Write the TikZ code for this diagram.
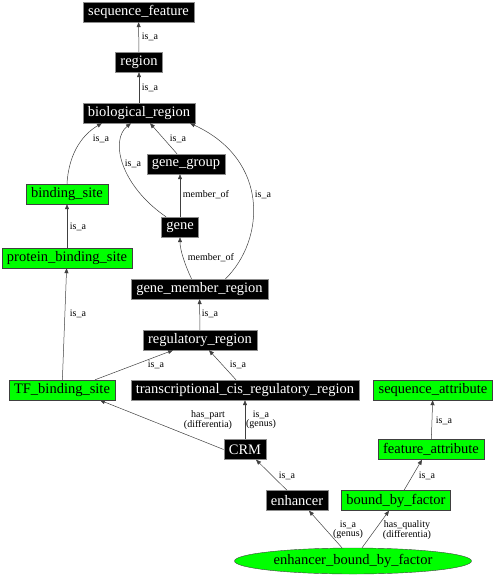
\documentclass[tikz,border=0pt]{standalone}
\usepackage{fontspec}
\setmainfont{Liberation Serif}
\usetikzlibrary{arrows.meta,calc,positioning,shapes.geometric}

\begin{document}
\begin{tikzpicture}[x=1pt,y=-1pt]
\tikzstyle{bk}=[fill=black,draw=black!45,text=white,font={\rmfamily\fontsize{14.5}{16}\selectfont},minimum height=20pt,inner xsep=5pt,inner ysep=1pt]
\tikzstyle{gr}=[bk,fill=green,draw=black!75,text=black]
\tikzstyle{bklabel}=[font={\rmfamily\fontsize{10}{8.5}\selectfont},inner sep=1pt,align=center]
\tikzstyle{rel}=[draw=black!75,line width=0.5pt,-{Triangle[length=5pt,width=4pt]}]

\useasboundingbox (0,0) rectangle (498,576);

% term nodes
\draw node[bk] (sf) at (138.5,12) {sequence\_feature}
      node[bk] (region) at (139,62) {region}
      node[bk] (bio) at (139,113) {biological\_region}
      node[bk] (gg) at (186,164) {gene\_group}
      node[gr] (bs) at (67,194) {binding\_site}
      node[bk] (gene) at (180,227) {gene}
      node[gr] (pbs) at (67,258) {protein\_binding\_site}
      node[bk] (gmr) at (199.5,289) {gene\_member\_region}
      node[bk] (reg) at (200,340) {regulatory\_region}
      node[gr] (tfbs) at (62,390) {TF\_binding\_site}
      node[bk] (tcrr) at (245,390) {transcriptional\_cis\_regulatory\_region}
      node[gr] (sa) at (433,390) {sequence\_attribute}
      node[bk] (crm) at (245,449.5) {CRM}
      node[gr] (fa) at (431,449.5) {feature\_attribute}
      node[bk] (enh) at (297,500.5) {enhancer}
      node[gr] (bbf) at (396,500.5) {bound\_by\_factor}
      node[gr,ellipse,minimum width=237pt,minimum height=26pt,inner sep=0pt] (ebf) at (353,561) {enhancer\_bound\_by\_factor};

% relations
\draw[rel] (region) -- (sf) node[bklabel] at (150,37) {is\_a};
\draw[rel] (bio) -- (region) node[bklabel] at (150,88) {is\_a};
\draw[rel] (bs.north) .. controls (69,150) and (85,133) .. ([xshift=-37pt]bio.south) node[bklabel] at (101,139) {is\_a};
\draw[rel] (gg) -- ([xshift=11pt]bio.south) node[bklabel] at (178,139) {is\_a};
\draw[rel] ([xshift=-14pt]gene.north) .. controls (120,185) and (110,140) .. ([xshift=-8pt]bio.south) node[bklabel] at (133,164) {is\_a};
\draw[rel] (gene) -- (gg.south -| gene) node[bklabel] at (206,195) {member\_of};
\draw[rel] ([xshift=-8pt]gmr.north) .. controls (185,265) and (180,250) .. (gene.south) node[bklabel] at (211,258) {member\_of};
\draw[rel] ([xshift=26pt]gmr.north) .. controls (265,240) and (270,160) .. ([xshift=51pt]bio.south) node[bklabel] at (263,195) {is\_a};
\draw[rel] (pbs) -- (bs) node[bklabel] at (78,227) {is\_a};
\draw[rel] (reg) -- (gmr) node[bklabel] at (210,314) {is\_a};
\draw[rel] (tfbs) -- (pbs) node[bklabel] at (78,314) {is\_a};
\draw[rel] ([xshift=33pt]tfbs.north) -- ([xshift=-27pt]reg.south) node[bklabel] at (156,365) {is\_a};
\draw[rel] ([xshift=-9pt]tcrr.north) -- ([xshift=9pt]reg.south) node[bklabel] at (238,365) {is\_a};
\draw[rel] (crm.west) -- ([xshift=38pt]tfbs.south) node[bklabel] at (208,420) {has\_part\\(differentia)};
\draw[rel] (crm) -- (tcrr) node[bklabel] at (261,420) {is\_a\\(genus)};
\draw[rel] (fa) -- (sa) node[bklabel] at (444,421) {is\_a};
\draw[rel] ([xshift=-10pt]enh.north) -- ([xshift=11pt]crm.south) node[bklabel] at (287,476) {is\_a};
\draw[rel] ([xshift=8pt]bbf.north) -- ([xshift=-9pt]fa.south) node[bklabel] at (427,476) {is\_a};
\draw[rel] ([xshift=-11pt]ebf.north) -- ([xshift=12pt]enh.south) node[bklabel] at (348,530) {is\_a\\(genus)};
\draw[rel] ([xshift=9pt]ebf.north) -- ([xshift=-7pt]bbf.south) node[bklabel] at (407,530) {has\_quality\\(differentia)};
\end{tikzpicture}
\end{document}
